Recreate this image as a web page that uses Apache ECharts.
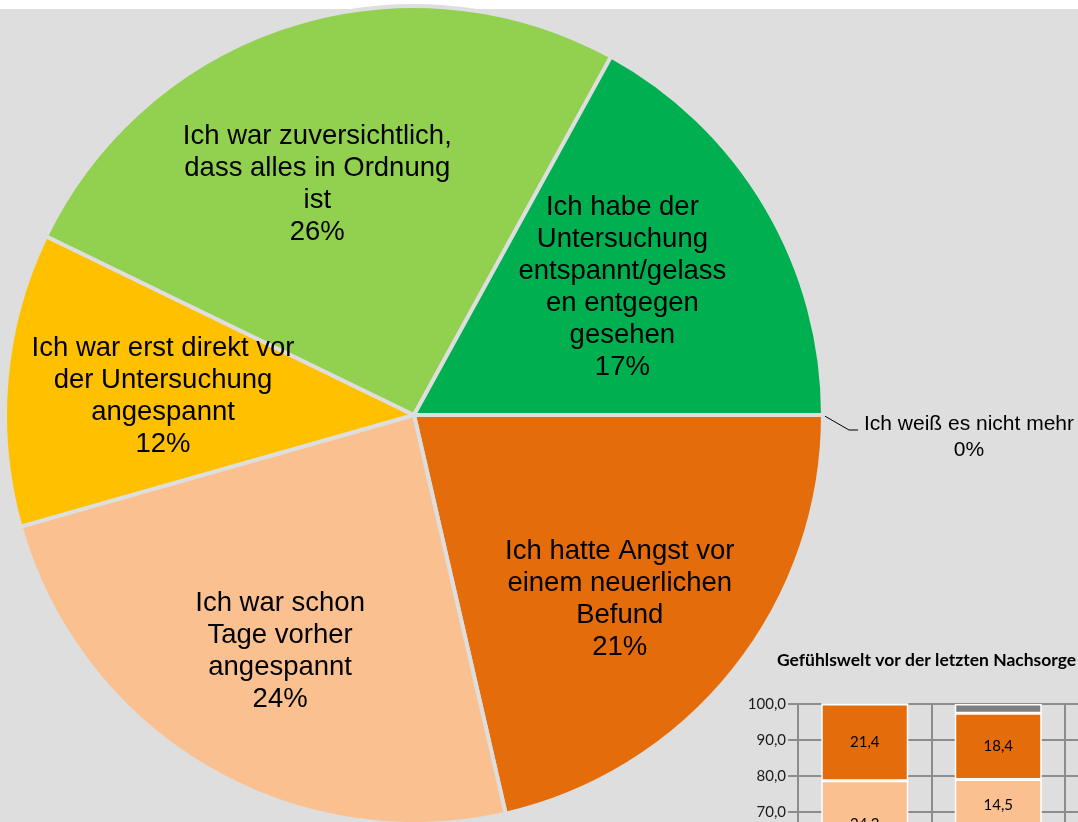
<!DOCTYPE html>
<html>
<head>
<meta charset="utf-8">
<title>Gefühlswelt vor der letzten Nachsorge</title>
<script src="https://cdn.jsdelivr.net/npm/echarts@6.0.0/dist/echarts.min.js"></script>
<style>
  body { margin: 0; background: #ffffff; }
  #chart { width: 1078px; height: 822px; }
</style>
</head>
<body>
<div id="chart"></div>
<script>
// answer categories (line breaks as in the original labels)
const answers = [
  'Ich hatte Angst vor\neinem neuerlichen\nBefund',
  'Ich war schon\nTage vorher\nangespannt',
  'Ich war erst direkt vor\nder Untersuchung\nangespannt',
  'Ich war zuversichtlich,\ndass alles in Ordnung\nist',
  'Ich habe der\nUntersuchung\nentspannt/gelass\nen entgegen\ngesehen',
  'Ich weiß es nicht mehr'
];
// shares in % for the big pie
const shares = [21.4, 24.2, 11.6, 25.8, 17.0, 0];
const answerColors = ['#e46c0a', '#fac090', '#ffc000', '#92d050', '#00b050', '#7f7f7f'];

// small stacked column chart (only the upper part is visible)
const insetTitle = 'Gefühlswelt vor der letzten Nachsorge';
const insetGroups = ['1', '2', '3'];
const insetAngst = [21.4, 18.4, null];
const insetTage = [24.2, 14.5, null];
const insetDirekt = [11.6, 13.1, null];
const insetZuversicht = [25.8, 29.0, null];
const insetEntspannt = [17.0, 22.4, null];
const insetWeissNicht = [0, 2.6, null];
const insetTicks = [0, 10, 20, 30, 40, 50, 60, 70, 80, 90, 100];

document.addEventListener('DOMContentLoaded', () => {
  const chart = echarts.init(document.getElementById('chart'), null, { width: 1078, height: 822 });
  const lastIdx = answers.length - 1;
  const gridGray = '#8c8c8c';

  // small shifts so the inside labels sit where Excel put them
  const labelShift = [[0, 21], [0, 10], [11, 5], [-17, 20], [-18, 6], [0, 0]];

  const pieData = answers.map((name, i) => ({
    name: name,
    value: shares[i],
    itemStyle: { color: answerColors[i] }
  }));

  // main pie: slices + outside label for the 0% answer
  const mainPie = {
    type: 'pie',
    center: [414, 415],
    radius: 409,
    startAngle: 0,
    clockwise: true,
    percentPrecision: 0,
    avoidLabelOverlap: false,
    silent: true,
    itemStyle: { borderColor: '#dedede', borderWidth: 4 },
    label: { show: false },
    labelLine: { show: false },
    labelLayout: function (p) {
      if (p.dataIndex !== lastIdx || !p.labelLinePoints) return {};
      const a = p.labelLinePoints[0];
      return {
        dy: 22,
        labelLinePoints: [[a[0], a[1]], [a[0] + 26, a[1] + 15], [a[0] + 35, a[1] + 15]]
      };
    },
    data: pieData.map((d, i) => i === lastIdx ? Object.assign({}, d, {
      label: {
        show: true,
        position: 'outside',
        distanceToLabelLine: 4,
        formatter: p => '{t|' + p.name + '}\n{t|' + p.percent + '%}',
        rich: {
          t: { fontFamily: 'Liberation Sans, Arial', fontSize: 21, lineHeight: 26, width: 214, align: 'center', color: '#000' }
        }
      },
      labelLine: { show: true, length: 26, length2: 9, lineStyle: { color: '#000', width: 1 } }
    }) : d)
  };

  // transparent overlay pie, only used to place the inside labels further out
  const labelPie = {
    type: 'pie',
    center: [414, 415],
    radius: 520,
    startAngle: 0,
    clockwise: true,
    percentPrecision: 0,
    avoidLabelOverlap: false,
    silent: true,
    z: 3,
    itemStyle: { color: 'rgba(0,0,0,0)', borderWidth: 0 },
    emphasis: { disabled: true },
    labelLine: { show: false },
    label: {
      show: true,
      position: 'inside',
      fontFamily: 'Liberation Sans, Arial',
      fontSize: 27.5,
      lineHeight: 32,
      color: '#000',
      formatter: p => p.name + '\n' + p.percent + '%'
    },
    labelLayout: function (p) {
      const s = labelShift[p.dataIndex] || [0, 0];
      return { dx: s[0], dy: s[1] };
    },
    data: answers.map((name, i) => ({
      name: name,
      value: shares[i],
      label: { show: i !== lastIdx }
    }))
  };

  const barLabel = {
    show: true,
    position: 'inside',
    fontFamily: 'Lato, Open Sans, sans-serif',
    fontSize: 15,
    color: '#000',
    formatter: p => p.value.toFixed(1).replace('.', ',')
  };

  const stackOrder = [
    [insetEntspannt, 4],
    [insetZuversicht, 3],
    [insetDirekt, 2],
    [insetTage, 1],
    [insetAngst, 0],
    [insetWeissNicht, 5]
  ];

  const barSeries = stackOrder.map(([values, idx]) => ({
    type: 'bar',
    name: answers[idx].replace(/\n/g, ' '),
    stack: 'gefuehl',
    barWidth: 87,
    silent: true,
    itemStyle: { color: answerColors[idx], borderColor: '#ffffff', borderWidth: 1.5 },
    label: Object.assign({}, barLabel, { show: idx !== 5 }),
    data: values
  }));

  const option = {
    backgroundColor: '#dedede',
    animation: false,
    graphic: [{
      type: 'rect',
      left: 0,
      top: 0,
      shape: { width: 1078, height: 9 },
      style: { fill: '#ffffff' }
    }],
    title: {
      text: insetTitle,
      left: 777,
      top: 651,
      padding: 0,
      textStyle: { fontFamily: 'Lato, Open Sans, sans-serif', fontWeight: 'bold', fontSize: 17.5, color: '#000' }
    },
    grid: { left: 798, top: 704, width: 400.5, height: 359, outerBoundsMode: 'none', containLabel: false },
    xAxis: {
      type: 'category',
      data: insetGroups,
      axisLine: { show: false },
      axisTick: { show: false },
      axisLabel: { show: false },
      splitLine: { show: true, interval: 0, lineStyle: { color: gridGray, width: 2 } }
    },
    yAxis: {
      type: 'value',
      min: insetTicks[0],
      max: insetTicks[insetTicks.length - 1],
      interval: 10,
      axisLine: { show: true, lineStyle: { color: gridGray, width: 2 } },
      axisTick: { show: true, length: 10, lineStyle: { color: gridGray, width: 2 } },
      axisLabel: {
        margin: 12,
        fontFamily: 'Lato, Open Sans, sans-serif',
        fontSize: 15,
        color: '#1a1a1a',
        formatter: v => v.toFixed(1).replace('.', ',')
      },
      splitLine: { show: true, lineStyle: { color: gridGray, width: 2 } }
    },
    series: [mainPie, labelPie].concat(barSeries)
  };

  chart.setOption(option);
});
</script>
</body>
</html>
